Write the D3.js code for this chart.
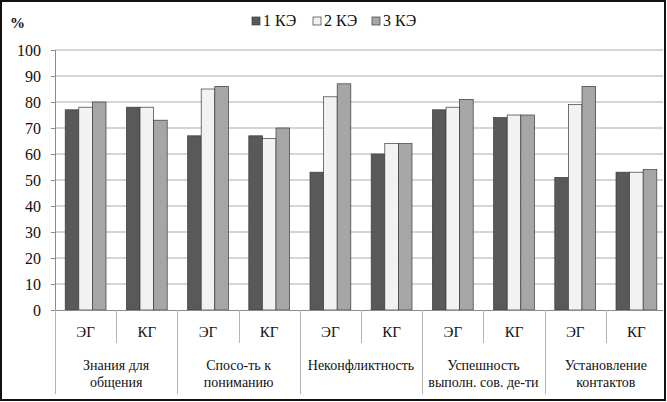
<!DOCTYPE html>
<html>
<head>
<meta charset="utf-8">
<script src="https://cdn.jsdelivr.net/npm/d3@7"></script>
<style>
  html, body { margin: 0; padding: 0; background: #fff; }
  svg { display: block; }
</style>
</head>
<body>
<svg id="chart" width="667" height="402"></svg>
<script>
/* ---------- data ---------- */
const groupLabels = [
  ["Знания для", "общения"],
  ["Спосо-ть к", "пониманию"],
  ["Неконфликтность"],
  ["Успешность", "выполн. сов. де-ти"],
  ["Установление", "контактов"],
];
const subLabels = ["ЭГ", "КГ"];
const seriesNames = ["1 КЭ", "2 КЭ", "3 КЭ"];
const ke1 = [77, 78, 67, 67, 53, 60, 77, 74, 51, 53];
const ke2 = [78, 78, 85, 66, 82, 64, 78, 75, 79, 53];
const ke3 = [80, 73, 86, 70, 87, 64, 81, 75, 86, 54];
const yTicks = [0, 10, 20, 30, 40, 50, 60, 70, 80, 90, 100];
const colors = ["#595959", "#f2f2f2", "#a6a6a6"];

/* ---------- layout ---------- */
const FONT = '"Liberation Serif", "Times New Roman", "DejaVu Serif"';
const svg = d3.select("#chart");
const plotLeft = 55, plotRight = 667, plotTop = 50, plotBottom = 310;
const gridEnd = 663;
const values = [ke1, ke2, ke3];
const cats = d3.range(ke1.length);

const x = d3.scaleBand().domain(cats).range([plotLeft, plotRight]);
const xs = d3
  .scaleBand()
  .domain(d3.range(seriesNames.length))
  .range([0, x.bandwidth()])
  .paddingOuter(0.75);
const y = d3.scaleLinear().domain([0, 100]).range([plotBottom, plotTop]);

/* gridlines */
svg
  .append("g")
  .selectAll("line")
  .data(yTicks.slice(1))
  .join("line")
  .attr("x1", plotLeft)
  .attr("x2", gridEnd)
  .attr("y1", (d) => y(d))
  .attr("y2", (d) => y(d))
  .attr("stroke", "#ababab")
  .attr("stroke-width", 1);

/* y axis */
const yAxis = svg
  .append("g")
  .attr("transform", `translate(${plotLeft},0)`)
  .call(d3.axisLeft(y).tickValues(yTicks).tickSize(4).tickPadding(10))
  .attr("font-family", FONT)
  .attr("font-size", null);
yAxis.select(".domain").attr("stroke", "#8c8c8c");
yAxis.selectAll(".tick line").attr("stroke", "#8c8c8c");
yAxis
  .selectAll(".tick text")
  .attr("fill", "#111")
  .style("font-size", "16px");

/* bars */
const flat = [];
cats.forEach((c) =>
  values.forEach((vals, s) => flat.push({ c, s, v: vals[c] })),
);
svg
  .append("g")
  .selectAll("rect")
  .data(flat)
  .join("rect")
  .attr("x", (d) => x(d.c) + xs(d.s))
  .attr("y", (d) => y(d.v))
  .attr("width", xs.bandwidth())
  .attr("height", (d) => y(0) - y(d.v))
  .attr("fill", (d) => colors[d.s])
  .attr("stroke", "#3a3a3a")
  .attr("stroke-width", 0.7);

/* category axis */
const ax = svg.append("g");
ax.append("line")
  .attr("x1", plotLeft)
  .attr("x2", gridEnd)
  .attr("y1", plotBottom + 0.5)
  .attr("y2", plotBottom + 0.5)
  .attr("stroke", "#8c8c8c");

// dividers: short between sub-categories, long between groups
const divs = d3.range(cats.length + 1);
ax.selectAll("line.div")
  .data(divs)
  .join("line")
  .attr("class", "div")
  .attr("x1", (i) => Math.round(plotLeft + i * x.step()) + 0.5)
  .attr("x2", (i) => Math.round(plotLeft + i * x.step()) + 0.5)
  .attr("y1", plotBottom)
  .attr("y2", (i) => (i % 2 === 0 ? 394 : 343))
  .attr("stroke", "#b5b5b5");

ax.selectAll("text.sub")
  .data(cats)
  .join("text")
  .attr("class", "sub")
  .attr("x", (c) => x(c) + x.bandwidth() / 2)
  .attr("y", 337)
  .attr("text-anchor", "middle")
  .attr("fill", "#111")
  .style("font-size", "15px")
  .text((c) => subLabels[c % 2]);

const gl = ax
  .selectAll("text.grp")
  .data(groupLabels)
  .join("text")
  .attr("class", "grp")
  .attr("text-anchor", "middle")
  .attr("fill", "#111")
  .style("font-size", "14px")
  .attr(
    "transform",
    (d, i) => `translate(${x(i * 2) + x.bandwidth()},0)`,
  );
gl.selectAll("tspan")
  .data((d) => d)
  .join("tspan")
  .attr("x", 0)
  .attr("y", (d, j) => 370 + j * 17)
  .text((d) => d);

/* legend */
const legX = [252, 313, 372];
const leg = svg
  .append("g")
  .selectAll("g")
  .data(seriesNames)
  .join("g")
  .attr("transform", (d, i) => `translate(${legX[i]},17)`);
leg.append("rect")
  .attr("width", 8)
  .attr("height", 8)
  .attr("fill", (d, i) => colors[i])
  .attr("stroke", "#3a3a3a")
  .attr("stroke-width", 0.7);
leg.append("text")
  .attr("x", 11)
  .attr("y", 9)
  .attr("fill", "#111")
  .style("font-size", "16px")
  .text((d) => d);

/* % label */
svg.append("text")
  .attr("x", 10)
  .attr("y", 28)
  .attr("fill", "#111")
  .style("font-size", "15px")
  .style("font-weight", "bold")
  .text("%");

/* outer frame */
svg.append("rect")
  .attr("x", 1)
  .attr("y", 1)
  .attr("width", 664)
  .attr("height", 399)
  .attr("fill", "none")
  .attr("stroke", "#111")
  .attr("stroke-width", 2);

/* one font for every text */
svg.selectAll("text").style("font-family", FONT);
</script>
</body>
</html>
